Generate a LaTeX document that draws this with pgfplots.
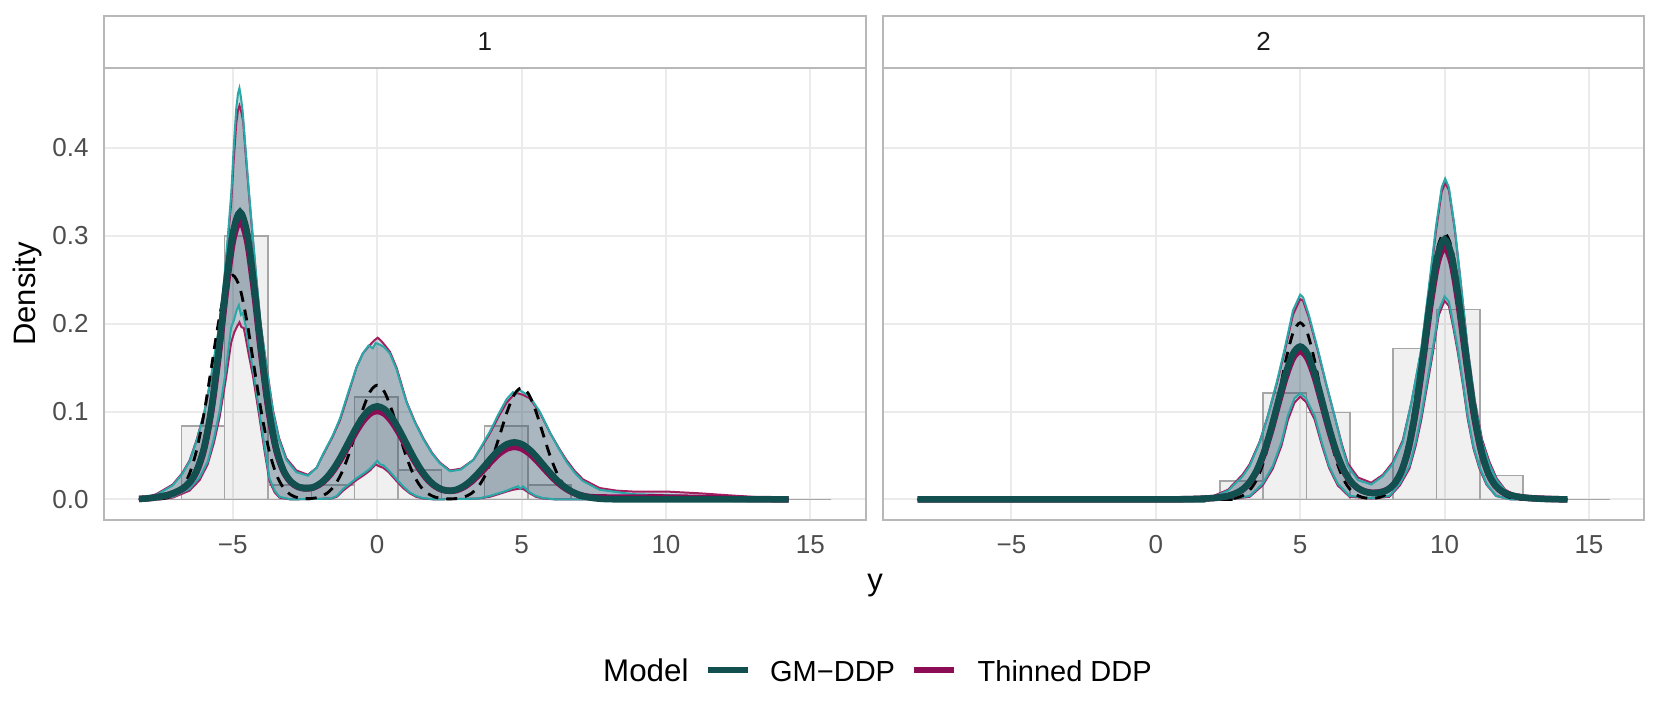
\documentclass[border=0pt]{standalone}
\usepackage{fontspec}
\setmainfont{Liberation Sans}
\usepackage{pgfplots}
\pgfplotsset{compat=1.18}

\definecolor{gmcol}{HTML}{124F4F}
\definecolor{thcol}{HTML}{8C0C55}
\definecolor{gmband}{HTML}{2AA8A8}
\definecolor{thband}{HTML}{A3205F}
\definecolor{bandfill}{HTML}{3D5A70}
\definecolor{gridgrey}{HTML}{EBEBEB}
\definecolor{framegrey}{HTML}{B8B8B8}
\definecolor{ticktext}{HTML}{4D4D4D}
\definecolor{striptext}{HTML}{1A1A1A}
\definecolor{histline}{HTML}{A6A6A6}

\pgfplotsset{
  facet/.style={
    scale only axis, width=228.36pt, height=135.69pt,
    xmin=-9.45, xmax=16.91, ymin=-0.0234, ymax=0.4912,
    xtick={-5,0,5,10,15}, xticklabels={−5,0,5,10,15},
    ytick={0,0.1,0.2,0.3,0.4},
    grid=major, major grid style={draw=gridgrey, line width=0.6pt},
    axis line style={draw=framegrey, line width=0.6pt},
    tick style={draw=none},
    ticklabel style={font=\fontsize{7.8}{9}\selectfont, text=ticktext},
    xticklabel style={anchor=north, inner sep=0pt, yshift=-4.5pt},
    yticklabel style={anchor=east, inner sep=0pt, xshift=-4.5pt},
  },
  hist/.style={ybar, bar width=1.5, bar shift=0pt, fill=black, fill opacity=0.06,
    draw=histline, line width=0.45pt},
  band/.style={fill=bandfill, fill opacity=0.25, draw=none},
  thedge/.style={thband, line width=0.6pt},
  gmedge/.style={gmband, line width=0.6pt},
  truth/.style={black, line width=0.85pt, dash pattern=on 3.3pt off 2.4pt, smooth},
  thmean/.style={thcol, line width=1.95pt, smooth},
  gmmean/.style={gmcol, line width=1.95pt, smooth},
}

\begin{document}
\begin{tikzpicture}
\useasboundingbox (0,0) rectangle (498.3pt,218.1pt);

% ---------- panel 1 ----------
\begin{axis}[facet, name=p1, at={(31.29pt,62.1pt)}, anchor=south west,
  yticklabels={0.0,0.1,0.2,0.3,0.4}]
\addplot[hist] coordinates {(-7.53,0) (-6.03,0.0833) (-4.53,0.3) (-3.03,0.0167) (-1.53,0.0167)
  (-0.03,0.1167) (1.47,0.0333) (2.97,0) (4.47,0.0833) (5.97,0.0167) (7.47,0) (8.97,0)
  (10.47,0) (11.97,0) (13.47,0) (14.97,0)};

% Thinned DDP band (upper, then lower reversed)
\addplot[band] coordinates {(-8.25,0) (-7.65,0.006) (-7.08,0.017) (-6.75,0.030)
  (-6.5,0.044) (-6.25,0.068) (-5.98,0.100) (-5.75,0.138) (-5.46,0.196) (-5.3,0.245) (-5.17,0.294)
  (-5.05,0.340) (-4.97,0.385) (-4.88,0.428) (-4.82,0.443) (-4.77,0.448) (-4.7,0.440) (-4.64,0.430)
  (-4.56,0.395) (-4.44,0.347) (-4.31,0.298) (-4.18,0.249) (-4.04,0.200) (-3.83,0.151) (-3.61,0.102)
  (-3.4,0.070) (-3.15,0.047) (-2.8,0.033) (-2.4,0.028) (-2.1,0.036) (-1.87,0.051) (-1.55,0.071)
  (-1.29,0.090) (-1.0,0.120) (-0.72,0.150) (-0.5,0.166) (-0.3,0.174) (-0.1,0.181) (0.02,0.184)
  (0.15,0.180) (0.3,0.174) (0.44,0.168) (0.67,0.150) (0.85,0.130) (1.02,0.111) (1.3,0.089)
  (1.59,0.070) (1.9,0.053) (2.17,0.042) (2.52,0.033) (2.9,0.035) (3.33,0.045) (3.6,0.059)
  (3.9,0.075) (4.2,0.094) (4.48,0.110) (4.7,0.118) (4.85,0.121) (5.05,0.119) (5.28,0.115)
  (5.63,0.099) (6.0,0.075) (6.3,0.058) (6.55,0.045) (6.85,0.032) (7.12,0.023) (7.7,0.013)
  (8.3,0.010) (8.85,0.009) (10.0,0.009) (11.16,0.007) (12.5,0.004) (13.47,0.002) (14.25,0.001)
  (14.25,0) (6.2,0) (5.75,0.001) (5.5,0.003) (5.28,0.007) (5.05,0.012) (4.88,0.012) (4.7,0.011)
  (4.48,0.009) (4.2,0.006) (3.9,0.003) (3.5,0.001) (2.0,0) (1.59,0.001) (1.35,0.003) (1.13,0.007)
  (0.9,0.013) (0.67,0.021) (0.4,0.031) (0.21,0.036) (0.05,0.038) (-0.05,0.040) (-0.25,0.033)
  (-0.45,0.028) (-0.72,0.022) (-0.95,0.016) (-1.18,0.010) (-1.4,0.003) (-1.6,0.001) (-3.0,0)
  (-3.38,0.002) (-3.55,0.008) (-3.73,0.021) (-3.9,0.055) (-4.08,0.094) (-4.18,0.115) (-4.3,0.140)
  (-4.45,0.165) (-4.56,0.185) (-4.62,0.195) (-4.7,0.196) (-4.77,0.2015) (-4.85,0.197) (-4.95,0.190)
  (-5.06,0.178) (-5.25,0.135) (-5.46,0.093) (-5.65,0.065) (-5.87,0.040) (-6.15,0.022) (-6.5,0.010)
  (-7.08,0.002) (-8.25,0)};
% GM-DDP band (upper, then lower reversed)
\addplot[band] coordinates {(-8.25,0) (-7.65,0.005) (-7.08,0.016) (-6.75,0.029)
  (-6.5,0.043) (-6.25,0.067) (-5.98,0.100) (-5.75,0.140) (-5.46,0.200) (-5.3,0.250) (-5.17,0.300)
  (-5.05,0.350) (-4.97,0.400) (-4.88,0.445) (-4.82,0.462) (-4.77,0.468) (-4.72,0.458) (-4.66,0.442)
  (-4.56,0.400) (-4.44,0.350) (-4.31,0.300) (-4.18,0.250) (-4.04,0.200) (-3.83,0.150) (-3.61,0.100)
  (-3.4,0.068) (-3.15,0.045) (-2.8,0.031) (-2.4,0.027) (-2.1,0.036) (-1.87,0.052) (-1.55,0.072)
  (-1.29,0.092) (-1.0,0.122) (-0.72,0.150) (-0.5,0.166) (-0.3,0.175) (-0.15,0.172) (-0.05,0.178)
  (0.1,0.176) (0.25,0.173) (0.44,0.166) (0.67,0.148) (0.85,0.128) (1.02,0.110) (1.3,0.088)
  (1.59,0.069) (1.9,0.052) (2.17,0.041) (2.52,0.032) (2.9,0.034) (3.33,0.045) (3.6,0.060)
  (3.9,0.077) (4.2,0.097) (4.48,0.114) (4.7,0.122) (4.8,0.120) (4.9,0.125) (5.05,0.122)
  (5.28,0.117) (5.63,0.100) (6.0,0.075) (6.3,0.057) (6.55,0.043) (6.85,0.030) (7.12,0.021)
  (7.7,0.011) (8.85,0.006) (10.0,0.005) (11.16,0.003) (12.5,0.002) (13.47,0.001) (14.25,0)
  (6.2,0) (5.75,0.0015) (5.5,0.004) (5.28,0.008) (5.05,0.015) (4.95,0.012) (4.88,0.015)
  (4.7,0.013) (4.48,0.010) (4.2,0.007) (3.9,0.004) (3.5,0.001) (2.0,0) (1.59,0.0015) (1.35,0.004)
  (1.13,0.008) (0.9,0.015) (0.67,0.023) (0.4,0.033) (0.21,0.039) (0.1,0.040) (0.0,0.044)
  (-0.1,0.040) (-0.25,0.035) (-0.45,0.030) (-0.72,0.024) (-0.95,0.018) (-1.18,0.012) (-1.4,0.004)
  (-1.6,0.001) (-3.0,0) (-3.38,0.003) (-3.55,0.010) (-3.73,0.024) (-3.9,0.060) (-4.08,0.100)
  (-4.18,0.122) (-4.3,0.148) (-4.45,0.175) (-4.56,0.198) (-4.65,0.212) (-4.72,0.210) (-4.79,0.221)
  (-4.87,0.215) (-4.95,0.205) (-5.06,0.195) (-5.25,0.145) (-5.46,0.100) (-5.65,0.070) (-5.87,0.043)
  (-6.15,0.025) (-6.5,0.012) (-7.08,0.003) (-8.25,0)};

\addplot[thedge] coordinates {(-8.25,0) (-7.65,0.006) (-7.08,0.017) (-6.75,0.030)
  (-6.5,0.044) (-6.25,0.068) (-5.98,0.100) (-5.75,0.138) (-5.46,0.196) (-5.3,0.245) (-5.17,0.294)
  (-5.05,0.340) (-4.97,0.385) (-4.88,0.428) (-4.82,0.443) (-4.77,0.448) (-4.7,0.440) (-4.64,0.430)
  (-4.56,0.395) (-4.44,0.347) (-4.31,0.298) (-4.18,0.249) (-4.04,0.200) (-3.83,0.151) (-3.61,0.102)
  (-3.4,0.070) (-3.15,0.047) (-2.8,0.033) (-2.4,0.028) (-2.1,0.036) (-1.87,0.051) (-1.55,0.071)
  (-1.29,0.090) (-1.0,0.120) (-0.72,0.150) (-0.5,0.166) (-0.3,0.174) (-0.1,0.181) (0.02,0.184)
  (0.15,0.180) (0.3,0.174) (0.44,0.168) (0.67,0.150) (0.85,0.130) (1.02,0.111) (1.3,0.089)
  (1.59,0.070) (1.9,0.053) (2.17,0.042) (2.52,0.033) (2.9,0.035) (3.33,0.045) (3.6,0.059)
  (3.9,0.075) (4.2,0.094) (4.48,0.110) (4.7,0.118) (4.85,0.121) (5.05,0.119) (5.28,0.115)
  (5.63,0.099) (6.0,0.075) (6.3,0.058) (6.55,0.045) (6.85,0.032) (7.12,0.023) (7.7,0.013)
  (8.3,0.010) (8.85,0.009) (10.0,0.009) (11.16,0.007) (12.5,0.004) (13.47,0.002) (14.25,0.001)};
\addplot[thedge] coordinates {(-8.25,0) (-7.08,0.002) (-6.5,0.010) (-6.15,0.022)
  (-5.87,0.040) (-5.65,0.065) (-5.46,0.093) (-5.25,0.135) (-5.06,0.178) (-4.95,0.190) (-4.85,0.197)
  (-4.77,0.2015) (-4.7,0.196) (-4.62,0.195) (-4.56,0.185) (-4.45,0.165) (-4.3,0.140) (-4.18,0.115)
  (-4.08,0.094) (-3.9,0.055) (-3.73,0.021) (-3.55,0.008) (-3.38,0.002) (-3.0,0) (-1.6,0.001)
  (-1.4,0.003) (-1.18,0.010) (-0.95,0.016) (-0.72,0.022) (-0.45,0.028) (-0.25,0.033) (-0.05,0.040)
  (0.05,0.038) (0.21,0.036) (0.4,0.031) (0.67,0.021) (0.9,0.013) (1.13,0.007) (1.35,0.003)
  (1.59,0.001) (2.0,0) (3.5,0.001) (3.9,0.003) (4.2,0.006) (4.48,0.009) (4.7,0.011) (4.88,0.012)
  (5.05,0.012) (5.28,0.007) (5.5,0.003) (5.75,0.001) (6.2,0) (14.25,0)};
\addplot[gmedge] coordinates {(-8.25,0) (-7.65,0.005) (-7.08,0.016) (-6.75,0.029)
  (-6.5,0.043) (-6.25,0.067) (-5.98,0.100) (-5.75,0.140) (-5.46,0.200) (-5.3,0.250) (-5.17,0.300)
  (-5.05,0.350) (-4.97,0.400) (-4.88,0.445) (-4.82,0.462) (-4.77,0.468) (-4.72,0.458) (-4.66,0.442)
  (-4.56,0.400) (-4.44,0.350) (-4.31,0.300) (-4.18,0.250) (-4.04,0.200) (-3.83,0.150) (-3.61,0.100)
  (-3.4,0.068) (-3.15,0.045) (-2.8,0.031) (-2.4,0.027) (-2.1,0.036) (-1.87,0.052) (-1.55,0.072)
  (-1.29,0.092) (-1.0,0.122) (-0.72,0.150) (-0.5,0.166) (-0.3,0.175) (-0.15,0.172) (-0.05,0.178)
  (0.1,0.176) (0.25,0.173) (0.44,0.166) (0.67,0.148) (0.85,0.128) (1.02,0.110) (1.3,0.088)
  (1.59,0.069) (1.9,0.052) (2.17,0.041) (2.52,0.032) (2.9,0.034) (3.33,0.045) (3.6,0.060)
  (3.9,0.077) (4.2,0.097) (4.48,0.114) (4.7,0.122) (4.8,0.120) (4.9,0.125) (5.05,0.122)
  (5.28,0.117) (5.63,0.100) (6.0,0.075) (6.3,0.057) (6.55,0.043) (6.85,0.030) (7.12,0.021)
  (7.7,0.011) (8.85,0.006) (10.0,0.005) (11.16,0.003) (12.5,0.002) (13.47,0.001) (14.25,0)};
\addplot[gmedge] coordinates {(-8.25,0) (-7.08,0.003) (-6.5,0.012) (-6.15,0.025)
  (-5.87,0.043) (-5.65,0.070) (-5.46,0.100) (-5.25,0.145) (-5.06,0.195) (-4.95,0.205) (-4.87,0.215)
  (-4.79,0.221) (-4.72,0.210) (-4.65,0.212) (-4.56,0.198) (-4.45,0.175) (-4.3,0.148) (-4.18,0.122)
  (-4.08,0.100) (-3.9,0.060) (-3.73,0.024) (-3.55,0.010) (-3.38,0.003) (-3.0,0) (-1.6,0.001)
  (-1.4,0.004) (-1.18,0.012) (-0.95,0.018) (-0.72,0.024) (-0.45,0.030) (-0.25,0.035) (-0.1,0.040)
  (0.0,0.044) (0.1,0.040) (0.21,0.039) (0.4,0.033) (0.67,0.023) (0.9,0.015) (1.13,0.008)
  (1.35,0.004) (1.59,0.0015) (2.0,0) (3.5,0.001) (3.9,0.004) (4.2,0.007) (4.48,0.010) (4.7,0.013)
  (4.88,0.015) (4.95,0.012) (5.05,0.015) (5.28,0.008) (5.5,0.004) (5.75,0.0015) (6.2,0) (14.25,0)};

\addplot[truth] coordinates {(-8.25,0) (-8,0.0001) (-7.75,0.0002) (-7.5,0.0006) (-7.25,0.0019)
  (-7,0.0054) (-6.75,0.0133) (-6.5,0.0291) (-6.25,0.0565) (-6,0.0972) (-5.75,0.1482) (-5.5,0.2004)
  (-5.25,0.2401) (-5,0.2550) (-4.75,0.2401) (-4.5,0.2004) (-4.25,0.1482) (-4,0.0972) (-3.75,0.0565)
  (-3.5,0.0291) (-3.25,0.0133) (-3,0.0054) (-2.75,0.0020) (-2.5,0.0009) (-2.25,0.0012) (-2,0.0028)
  (-1.75,0.0068) (-1.5,0.0148) (-1.25,0.0288) (-1,0.0496) (-0.75,0.0756) (-0.5,0.1022)
  (-0.25,0.1224) (0,0.1300) (0.25,0.1224) (0.5,0.1022) (0.75,0.0756) (1,0.0496) (1.25,0.0288)
  (1.5,0.0148) (1.75,0.0068) (2,0.0027) (2.25,0.0011) (2.5,0.0006) (2.75,0.0011) (3,0.0027)
  (3.25,0.0066) (3.5,0.0145) (3.75,0.0281) (4,0.0484) (4.25,0.0738) (4.5,0.0998) (4.75,0.1196)
  (5,0.1270) (5.25,0.1196) (5.5,0.0998) (5.75,0.0738) (6,0.0484) (6.25,0.0281) (6.5,0.0145)
  (6.75,0.0066) (7,0.0027) (7.25,0.0010) (7.5,0.0003) (7.75,0.0001) (8,0) (14.25,0)};

\addplot[thmean] coordinates {(-8.25,0.0006) (-8,0.0011) (-7.75,0.0019) (-7.5,0.0032) (-7.25,0.0049)
  (-7,0.0078) (-6.75,0.0119) (-6.5,0.0189) (-6.25,0.0320) (-6,0.0566) (-5.75,0.0990) (-5.5,0.1611)
  (-5.25,0.2334) (-5,0.2935) (-4.75,0.3172) (-4.5,0.2935) (-4.25,0.2334) (-4,0.1611) (-3.75,0.0991)
  (-3.5,0.0568) (-3.25,0.0325) (-3,0.0201) (-2.75,0.0143) (-2.5,0.0125) (-2.25,0.0132) (-2,0.0170)
  (-1.75,0.0238) (-1.5,0.0338) (-1.25,0.0467) (-1,0.0614) (-0.75,0.0762) (-0.5,0.0888)
  (-0.25,0.0976) (0,0.1007) (0.25,0.0976) (0.5,0.0888) (0.75,0.0760) (1,0.0611) (1.25,0.0462)
  (1.5,0.0330) (1.75,0.0225) (2,0.0152) (2.25,0.0110) (2.5,0.0098) (2.75,0.0106) (3,0.0141)
  (3.25,0.0199) (3.5,0.0276) (3.75,0.0362) (4,0.0452) (4.25,0.0528) (4.5,0.0580) (4.75,0.0598)
  (5,0.0580) (5.25,0.0528) (5.5,0.0452) (5.75,0.0362) (6,0.0274) (6.25,0.0194) (6.5,0.0130)
  (6.75,0.0083) (7,0.0052) (7.25,0.0033) (7.5,0.0025) (8,0.0022) (9,0.0022) (10,0.0022)
  (11,0.0018) (12,0.0010) (13,0.0004) (14.25,0.0001)};
\addplot[gmmean] coordinates {(-8.25,0.0006) (-8,0.0011) (-7.75,0.0020) (-7.5,0.0033) (-7.25,0.0051)
  (-7,0.0080) (-6.75,0.0123) (-6.5,0.0195) (-6.25,0.0330) (-6,0.0584) (-5.75,0.1021) (-5.5,0.1661)
  (-5.25,0.2406) (-5,0.3026) (-4.75,0.3270) (-4.5,0.3026) (-4.25,0.2406) (-4,0.1661) (-3.75,0.1022)
  (-3.5,0.0586) (-3.25,0.0335) (-3,0.0207) (-2.75,0.0147) (-2.5,0.0127) (-2.25,0.0135) (-2,0.0176)
  (-1.75,0.0249) (-1.5,0.0355) (-1.25,0.0491) (-1,0.0646) (-0.75,0.0802) (-0.5,0.0935)
  (-0.25,0.1027) (0,0.1060) (0.25,0.1027) (0.5,0.0935) (0.75,0.0800) (1,0.0643) (1.25,0.0486)
  (1.5,0.0347) (1.75,0.0236) (2,0.0158) (2.25,0.0113) (2.5,0.0099) (2.75,0.0112) (3,0.0153)
  (3.25,0.0216) (3.5,0.0300) (3.75,0.0394) (4,0.0491) (4.25,0.0574) (4.5,0.0630) (4.75,0.0650)
  (5,0.0630) (5.25,0.0574) (5.5,0.0491) (5.75,0.0394) (6,0.0298) (6.25,0.0211) (6.5,0.0141)
  (6.75,0.0088) (7,0.0052) (7.25,0.0029) (7.5,0.0015) (7.75,0.0007) (8,0.0003) (8.5,0.0001)
  (9,0) (14.25,0)};
\end{axis}

% ---------- panel 2 ----------
\begin{axis}[facet, name=p2, at={(264.87pt,62.1pt)}, anchor=south west, yticklabels={}]
\addplot[hist] coordinates {(-7.53,0) (-6.03,0) (-4.53,0) (-3.03,0) (-1.53,0) (-0.03,0) (1.47,0)
  (2.97,0.021) (4.47,0.121) (5.97,0.099) (7.47,0) (8.97,0.172) (10.47,0.216) (11.97,0.027)
  (13.47,0) (14.97,0)};

\addplot[band] coordinates {(-8.25,0) (1.5,0.001) (2.0,0.004) (2.5,0.011) (3.0,0.028)
  (3.25,0.040) (3.6,0.066) (3.88,0.095) (4.2,0.133) (4.46,0.168) (4.75,0.210) (5.0,0.228)
  (5.1,0.226) (5.3,0.207) (5.61,0.169) (5.9,0.131) (6.19,0.095) (6.45,0.062) (6.65,0.041)
  (7.0,0.025) (7.46,0.019) (7.86,0.028) (8.2,0.042) (8.55,0.067) (8.85,0.110) (9.19,0.169)
  (9.45,0.236) (9.7,0.305) (9.9,0.350) (10.02,0.360) (10.15,0.352) (10.35,0.308) (10.55,0.250)
  (10.8,0.172) (11.05,0.112) (11.3,0.068) (11.55,0.043) (11.8,0.024) (12.1,0.011) (12.5,0.004)
  (13.0,0.001) (14.25,0)
  (12.3,0) (11.78,0.004) (11.45,0.017) (11.2,0.036) (11.0,0.058) (10.8,0.092) (10.65,0.127)
  (10.46,0.167) (10.3,0.196) (10.15,0.220) (10.0,0.226) (9.8,0.210) (9.59,0.166) (9.4,0.130)
  (9.19,0.090) (9.0,0.061) (8.78,0.035) (8.45,0.016) (8.09,0.003) (7.46,0.001) (6.71,0.003)
  (6.3,0.016) (6.0,0.036) (5.75,0.062) (5.5,0.091) (5.2,0.111) (5.0,0.117) (4.8,0.110)
  (4.57,0.090) (4.35,0.061) (4.05,0.035) (3.7,0.016) (3.25,0.003) (2.5,0) (-8.25,0)};
\addplot[band] coordinates {(-8.25,0) (1.5,0.001) (2.0,0.003) (2.5,0.010) (3.0,0.026)
  (3.25,0.038) (3.6,0.065) (3.88,0.095) (4.2,0.135) (4.46,0.171) (4.75,0.215) (5.0,0.233)
  (5.1,0.230) (5.3,0.210) (5.61,0.171) (5.9,0.132) (6.19,0.095) (6.45,0.060) (6.65,0.038)
  (7.0,0.022) (7.46,0.017) (7.86,0.0265) (8.2,0.040) (8.55,0.065) (8.85,0.110) (9.19,0.171)
  (9.45,0.240) (9.7,0.310) (9.9,0.355) (10.02,0.365) (10.15,0.355) (10.35,0.310) (10.55,0.250)
  (10.8,0.171) (11.05,0.110) (11.3,0.065) (11.55,0.040) (11.8,0.022) (12.1,0.010) (12.5,0.003)
  (13.0,0.001) (14.25,0)
  (12.3,0) (11.78,0.004) (11.45,0.018) (11.2,0.038) (11.0,0.060) (10.8,0.095) (10.65,0.130)
  (10.46,0.171) (10.3,0.200) (10.15,0.225) (10.0,0.231) (9.8,0.215) (9.59,0.171) (9.4,0.135)
  (9.19,0.095) (9.0,0.065) (8.78,0.038) (8.45,0.018) (8.09,0.004) (7.46,0.0015) (6.71,0.004)
  (6.3,0.018) (6.0,0.038) (5.75,0.065) (5.5,0.095) (5.2,0.115) (5.0,0.121) (4.8,0.115)
  (4.57,0.095) (4.35,0.065) (4.05,0.038) (3.7,0.018) (3.25,0.004) (2.5,0) (-8.25,0)};

\addplot[thedge] coordinates {(-8.25,0) (1.5,0.001) (2.0,0.004) (2.5,0.011) (3.0,0.028)
  (3.25,0.040) (3.6,0.066) (3.88,0.095) (4.2,0.133) (4.46,0.168) (4.75,0.210) (5.0,0.228)
  (5.1,0.226) (5.3,0.207) (5.61,0.169) (5.9,0.131) (6.19,0.095) (6.45,0.062) (6.65,0.041)
  (7.0,0.025) (7.46,0.019) (7.86,0.028) (8.2,0.042) (8.55,0.067) (8.85,0.110) (9.19,0.169)
  (9.45,0.236) (9.7,0.305) (9.9,0.350) (10.02,0.360) (10.15,0.352) (10.35,0.308) (10.55,0.250)
  (10.8,0.172) (11.05,0.112) (11.3,0.068) (11.55,0.043) (11.8,0.024) (12.1,0.011) (12.5,0.004)
  (13.0,0.001) (14.25,0)};
\addplot[thedge] coordinates {(-8.25,0) (2.5,0) (3.25,0.003) (3.7,0.016) (4.05,0.035)
  (4.35,0.061) (4.57,0.090) (4.8,0.110) (5.0,0.117) (5.2,0.111) (5.5,0.091) (5.75,0.062)
  (6.0,0.036) (6.3,0.016) (6.71,0.003) (7.46,0.001) (8.09,0.003) (8.45,0.016) (8.78,0.035)
  (9.0,0.061) (9.19,0.090) (9.4,0.130) (9.59,0.166) (9.8,0.210) (10.0,0.226) (10.15,0.220)
  (10.3,0.196) (10.46,0.167) (10.65,0.127) (10.8,0.092) (11.0,0.058) (11.2,0.036) (11.45,0.017)
  (11.78,0.004) (12.3,0) (14.25,0)};
\addplot[gmedge] coordinates {(-8.25,0) (1.5,0.001) (2.0,0.003) (2.5,0.010) (3.0,0.026)
  (3.25,0.038) (3.6,0.065) (3.88,0.095) (4.2,0.135) (4.46,0.171) (4.75,0.215) (5.0,0.233)
  (5.1,0.230) (5.3,0.210) (5.61,0.171) (5.9,0.132) (6.19,0.095) (6.45,0.060) (6.65,0.038)
  (7.0,0.022) (7.46,0.017) (7.86,0.0265) (8.2,0.040) (8.55,0.065) (8.85,0.110) (9.19,0.171)
  (9.45,0.240) (9.7,0.310) (9.9,0.355) (10.02,0.365) (10.15,0.355) (10.35,0.310) (10.55,0.250)
  (10.8,0.171) (11.05,0.110) (11.3,0.065) (11.55,0.040) (11.8,0.022) (12.1,0.010) (12.5,0.003)
  (13.0,0.001) (14.25,0)};
\addplot[gmedge] coordinates {(-8.25,0) (2.5,0) (3.25,0.004) (3.7,0.018) (4.05,0.038)
  (4.35,0.065) (4.57,0.095) (4.8,0.115) (5.0,0.121) (5.2,0.115) (5.5,0.095) (5.75,0.065)
  (6.0,0.038) (6.3,0.018) (6.71,0.004) (7.46,0.0015) (8.09,0.004) (8.45,0.018) (8.78,0.038)
  (9.0,0.065) (9.19,0.095) (9.4,0.135) (9.59,0.171) (9.8,0.215) (10.0,0.231) (10.15,0.225)
  (10.3,0.200) (10.46,0.171) (10.65,0.130) (10.8,0.095) (11.0,0.060) (11.2,0.038) (11.45,0.018)
  (11.78,0.004) (12.3,0) (14.25,0)};

\addplot[truth] coordinates {(-8.25,0) (2,0) (2.25,0.0001) (2.5,0.0005) (2.75,0.0015) (3,0.0042)
  (3.25,0.0105) (3.5,0.0230) (3.75,0.0445) (4,0.0766) (4.25,0.1168) (4.5,0.1579) (4.75,0.1892)
  (5,0.2010) (5.25,0.1892) (5.5,0.1579) (5.75,0.1168) (6,0.0766) (6.25,0.0445) (6.5,0.0230)
  (6.75,0.0105) (7,0.0043) (7.25,0.0017) (7.5,0.0012) (7.75,0.0024) (8,0.0064) (8.25,0.0158)
  (8.5,0.0346) (8.75,0.0671) (9,0.1155) (9.25,0.1761) (9.5,0.2381) (9.75,0.2853) (10,0.3030)
  (10.25,0.2853) (10.5,0.2381) (10.75,0.1761) (11,0.1155) (11.25,0.0671) (11.5,0.0346)
  (11.75,0.0158) (12,0.0064) (12.25,0.0023) (12.5,0.0007) (12.75,0.0002) (13,0.0001) (14.25,0)};

\addplot[thmean] coordinates {(-8.25,0) (0,0) (1,0.0003) (1.5,0.0007) (2,0.0016) (2.25,0.0025)
  (2.5,0.0039) (2.75,0.0066) (3,0.0112) (3.25,0.0194) (3.5,0.0326) (3.75,0.0527) (4,0.0792)
  (4.25,0.1098) (4.5,0.1393) (4.75,0.1608) (5,0.1688) (5.25,0.1608) (5.5,0.1393) (5.75,0.1098)
  (6,0.0794) (6.25,0.0530) (6.5,0.0332) (6.75,0.0204) (7,0.0128) (7.25,0.0090) (7.5,0.0076)
  (7.75,0.0081) (8,0.0106) (8.25,0.0172) (8.5,0.0311) (8.75,0.0572) (9,0.0997) (9.25,0.1569)
  (9.5,0.2190) (9.75,0.2682) (10,0.2871) (10.25,0.2682) (10.5,0.2189) (10.75,0.1568) (11,0.0994)
  (11.25,0.0570) (11.5,0.0305) (11.75,0.0160) (12,0.0088) (12.25,0.0053) (12.5,0.0033)
  (13,0.0014) (14,0.0002) (14.25,0.0001)};
\addplot[gmmean] coordinates {(-8.25,0) (0,0) (0.5,0.0001) (1,0.0003) (1.5,0.0007) (1.75,0.0012)
  (2,0.0016) (2.25,0.0025) (2.5,0.0039) (2.75,0.0066) (3,0.0113) (3.25,0.0197) (3.5,0.0334)
  (3.75,0.0541) (4,0.0815) (4.25,0.1131) (4.5,0.1436) (4.75,0.1658) (5,0.1740) (5.25,0.1658)
  (5.5,0.1436) (5.75,0.1132) (6,0.0817) (6.25,0.0544) (6.5,0.0339) (6.75,0.0206) (7,0.0127)
  (7.25,0.0087) (7.5,0.0072) (7.75,0.0078) (8,0.0105) (8.25,0.0175) (8.5,0.0319) (8.75,0.0589)
  (9,0.1028) (9.25,0.1618) (9.5,0.2258) (9.75,0.2765) (10,0.2960) (10.25,0.2765) (10.5,0.2257)
  (10.75,0.1616) (11,0.1025) (11.25,0.0585) (11.5,0.0312) (11.75,0.0163) (12,0.0089)
  (12.25,0.0053) (12.5,0.0033) (12.75,0.0021) (13,0.0014) (13.5,0.0005) (14,0.0002) (14.25,0.0001)};
\end{axis}

% facet strips
\foreach \p/\t in {p1/1,p2/2}{
  \draw[framegrey, line width=0.6pt, fill=white] (\p.north west) rectangle ([yshift=15.51pt]\p.north east);
  \node[font=\fontsize{7.8}{9}\selectfont, text=striptext, inner sep=0pt] at ([yshift=7.75pt]\p.north) {\t};
}

% axis titles
\node[rotate=90, font=\fontsize{9.3}{11}\selectfont, inner sep=0pt] at (8.25pt,129.9pt) {Density};
\node[anchor=base, font=\fontsize{9.3}{11}\selectfont, inner sep=0pt] at (262.5pt,40.95pt) {y};

% legend
\node[anchor=base west, font=\fontsize{9.4}{11}\selectfont, inner sep=0pt] at (180.75pt,13.6pt) {Model};
\draw[gmcol, line width=1.8pt] (212.4pt,17.0pt) -- (224.4pt,17.0pt);
\node[anchor=base west, font=\fontsize{8.7}{10}\selectfont, inner sep=0pt] at (230.85pt,13.6pt) {GM−DDP};
\draw[thcol, line width=1.8pt] (274.2pt,17.0pt) -- (286.2pt,17.0pt);
\node[anchor=base west, font=\fontsize{8.7}{10}\selectfont, inner sep=0pt] at (293.1pt,13.6pt) {Thinned DDP};
\end{tikzpicture}
\end{document}
